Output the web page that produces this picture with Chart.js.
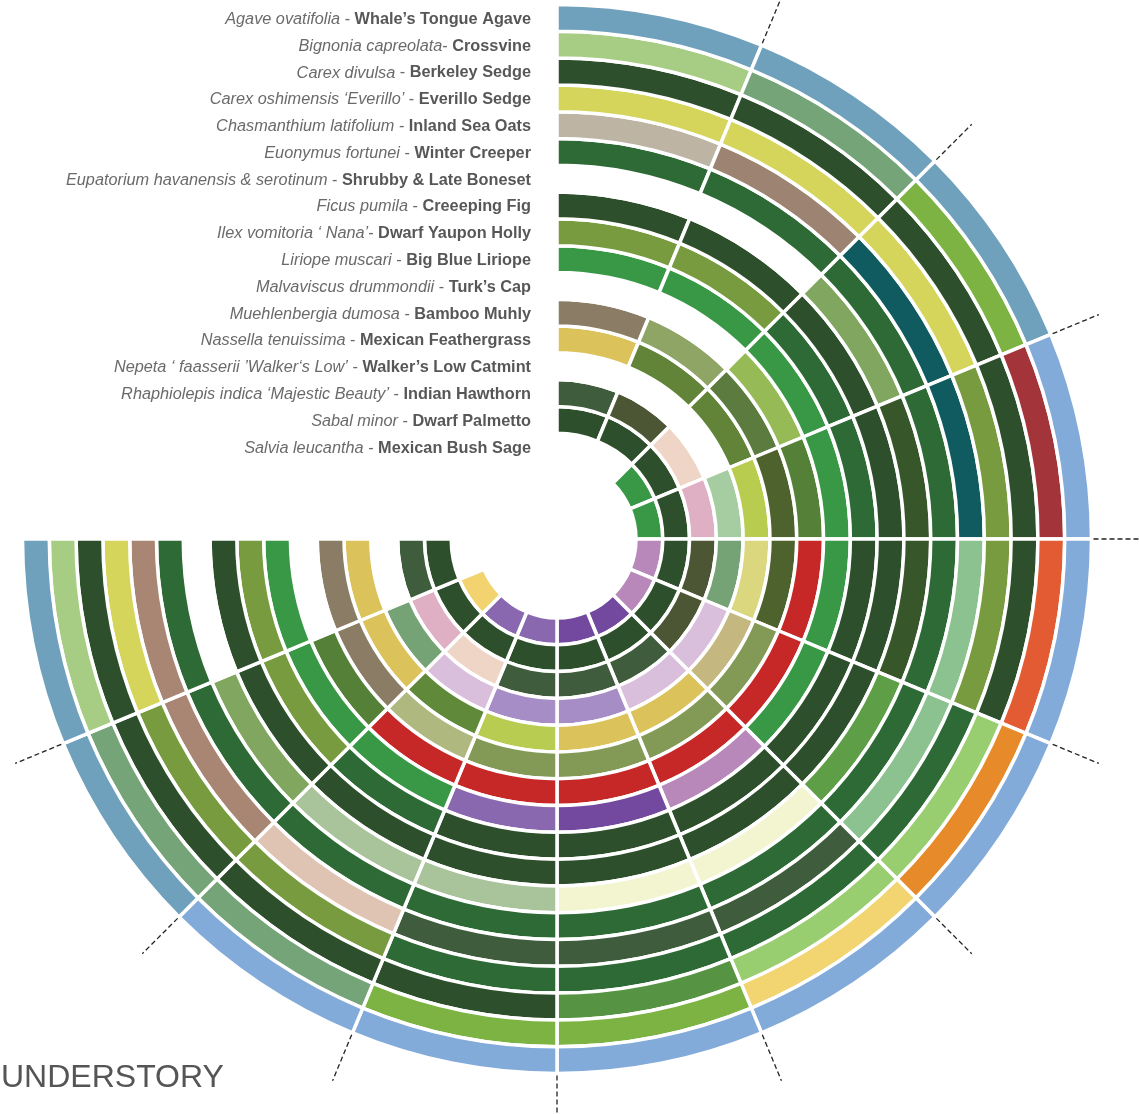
<!DOCTYPE html>
<html>
<head>
<meta charset="utf-8">
<script src="https://cdn.jsdelivr.net/npm/chart.js@4.4.1/dist/chart.umd.min.js"></script>
<style>
  html, body { margin: 0; padding: 0; background: #fff; }
  #wrap { position: relative; width: 1139px; height: 1114px; }
</style>
</head>
<body>
<div id="wrap"><canvas id="wheel"></canvas></div>
<script>
const months = ['Jan', 'Feb', 'Mar', 'Apr', 'May', 'Jun', 'Jul', 'Aug', 'Sep', 'Oct', 'Nov', 'Dec'];

const latinNames = [
    'Agave ovatifolia', 'Bignonia capreolata', 'Carex divulsa', 'Carex oshimensis ‘Everillo’',
    'Chasmanthium latifolium', 'Euonymus fortunei', 'Eupatorium havanensis & serotinum',
    'Ficus pumila', 'Ilex vomitoria ‘ Nana’', 'Liriope muscari', 'Malvaviscus drummondii',
    'Muehlenbergia dumosa', 'Nassella tenuissima', 'Nepeta ‘ faasserii ’Walker‘s Low’',
    'Rhaphiolepis indica ‘Majestic Beauty’', 'Sabal minor', 'Salvia leucantha'
];
const separators = [' - ', '- ', ' - ', ' - ', ' - ', ' - ', ' - ', ' - ', '- ', ' - ', ' - ', ' - ', ' - ', ' - ', ' - ', ' - ', ' - '];
const commonNames = [
    'Whale’s Tongue Agave', 'Crossvine', 'Berkeley Sedge', 'Everillo Sedge', 'Inland Sea Oats',
    'Winter Creeper', 'Shrubby & Late Boneset', 'Creeeping Fig', 'Dwarf Yaupon Holly',
    'Big Blue Liriope', 'Turk’s Cap', 'Bamboo Muhly', 'Mexican Feathergrass',
    'Walker’s Low Catmint', 'Indian Hawthorn', 'Dwarf Palmetto', 'Mexican Bush Sage'
];

// look of each plant month by month (null = nothing to show)
const ringColors = [
    ['#6fa1bd', '#6fa1bd', '#6fa1bd', '#83abd9', '#83abd9', '#83abd9', '#83abd9', '#83abd9', '#83abd9', '#83abd9', '#6fa1bd', '#6fa1bd'],
    ['#a6cd83', '#75a478', '#7cb342', '#a3353a', '#e35b32', '#e68a2a', '#f2d470', '#7cb342', '#7cb342', '#75a478', '#75a478', '#a6cd83'],
    ['#2e4f2b', '#2e4f2b', '#2e4f2b', '#2e4f2b', '#2e4f2b', '#98cd70', '#98cd70', '#569443', '#2e4f2b', '#2e4f2b', '#2e4f2b', '#2e4f2b'],
    ['#d5d45b', '#d5d45b', '#d5d45b', '#789b3f', '#789b3f', '#2d6a35', '#2d6a35', '#2d6a35', '#2d6a35', '#789b3f', '#789b3f', '#d5d45b'],
    ['#bdb4a4', '#9d8371', '#0f5b5f', '#0f5b5f', '#8cc190', '#8cc190', '#3f5c3c', '#3f5c3c', '#3f5c3c', '#dfc4b3', '#a98573', '#a98573'],
    ['#2d6a35', '#2d6a35', '#2d6a35', '#2d6a35', '#2d6a35', '#2d6a35', '#2d6a35', '#2d6a35', '#2d6a35', '#2d6a35', '#2d6a35', '#2d6a35'],
    [null, null, '#80a660', '#37562a', '#37562a', '#5d9e46', '#f2f5d0', '#f2f5d0', '#a9c39b', '#a9c39b', '#80a660', null],
    ['#2e4f2b', '#2e4f2b', '#2e4f2b', '#2e4f2b', '#2e4f2b', '#2e4f2b', '#2e4f2b', '#2e4f2b', '#2e4f2b', '#2e4f2b', '#2e4f2b', '#2e4f2b'],
    ['#789b3f', '#789b3f', '#2d6a35', '#2d6a35', '#2e4f2b', '#2e4f2b', '#2e4f2b', '#2e4f2b', '#2e4f2b', '#2d6a35', '#789b3f', '#789b3f'],
    ['#389845', '#389845', '#389845', '#389845', '#389845', '#389845', '#b888bb', '#7349a0', '#8a68b0', '#389845', '#389845', '#389845'],
    [null, null, '#96bb56', '#548038', '#c62828', '#c62828', '#c62828', '#c62828', '#c62828', '#c62828', '#548038', null],
    ['#8b7d65', '#8ea565', '#5b7b3f', '#4e622d', '#4e622d', '#839a56', '#839a56', '#839a56', '#839a56', '#afb87e', '#8b7d65', '#8b7d65'],
    ['#dbc25a', '#618438', '#618438', '#b8cc50', '#dbd77e', '#c5b780', '#dbc25a', '#dbc25a', '#b9cc52', '#608a3a', '#dbc25a', '#dbc25a'],
    [null, null, null, '#a6cda1', '#75a376', '#d9bfdc', '#d9bfdc', '#a78dc5', '#a78dc5', '#d9bfdc', '#75a376', null],
    ['#3f5c3c', '#4d5634', '#efd5c5', '#dfb0c3', '#4d5634', '#4d5634', '#3f5c3c', '#3f5c3c', '#3f5c3c', '#efd5c5', '#dfb0c3', '#3f5c3c'],
    ['#2e4f2b', '#2e4f2b', '#2e4f2b', '#2e4f2b', '#2e4f2b', '#2e4f2b', '#2e4f2b', '#2e4f2b', '#2e4f2b', '#2e4f2b', '#2e4f2b', '#2e4f2b'],
    [null, null, '#389845', '#389845', '#b888bb', '#b888bb', '#7349a0', '#7349a0', '#8a68b0', '#8a68b0', '#f2d36f', null]
];

const sectionTitle = 'UNDERSTORY';

const FONT = '"Liberation Sans", Arial, sans-serif';

// Dashed month ticks, plant labels and the section title
const overlayPlugin = {
    id: 'overlay',
    afterDraw(chart) {
        const ctx = chart.ctx;
        const outerArcs = chart.getDatasetMeta(0).data;
        const cx = outerArcs[0].x;
        const cy = outerArcs[0].y;
        const rOut = outerArcs[0].outerRadius;

        ctx.save();
        ctx.strokeStyle = '#222';
        ctx.lineWidth = 1.3;
        ctx.setLineDash([5, 3]);
        for (let i = 1; i < outerArcs.length; i++) {
            const a = outerArcs[i].startAngle;
            ctx.beginPath();
            ctx.moveTo(cx + (rOut + 2) * Math.cos(a), cy + (rOut + 2) * Math.sin(a));
            ctx.lineTo(cx + (rOut + 52) * Math.cos(a), cy + (rOut + 52) * Math.sin(a));
            ctx.stroke();
        }
        ctx.restore();

        ctx.save();
        ctx.textBaseline = 'middle';
        const xRight = cx - 26;
        chart.data.datasets.forEach((ds, j) => {
            const arc = chart.getDatasetMeta(j).data[0];
            const y = cy - (arc.innerRadius + arc.outerRadius) / 2 + 1.5;
            ctx.font = 'bold 16.3px ' + FONT;
            const wCommon = ctx.measureText(commonNames[j]).width;
            ctx.fillStyle = '#575757';
            ctx.fillText(commonNames[j], xRight - wCommon, y);
            ctx.font = '16.3px ' + FONT;
            const wSep = ctx.measureText(separators[j]).width;
            ctx.fillStyle = '#6a6a6a';
            ctx.fillText(separators[j], xRight - wCommon - wSep, y);
            ctx.font = 'italic 16.3px ' + FONT;
            const wLatin = ctx.measureText(latinNames[j]).width;
            ctx.fillText(latinNames[j], xRight - wCommon - wSep - wLatin, y);
        });

        ctx.textBaseline = 'alphabetic';
        ctx.font = '32px ' + FONT;
        ctx.fillStyle = '#555';
        ctx.fillText(sectionTitle, 1, 1087);
        ctx.restore();
    }
};

const outerRadius = 534.5;
const innerRadius = 79;

new Chart(document.getElementById('wheel'), {
    type: 'doughnut',
    data: {
        labels: months,
        datasets: ringColors.map((row, j) => ({
            label: commonNames[j],
            data: months.map(() => 1),
            backgroundColor: row.map(c => c || 'rgba(0,0,0,0)'),
            borderColor: '#ffffff',
            borderWidth: 3.5,
            hoverOffset: 0
        }))
    },
    options: {
        responsive: true,
        maintainAspectRatio: false,
        animation: false,
        rotation: 0,
        circumference: 270,
        radius: outerRadius,
        cutout: (innerRadius / outerRadius * 100) + '%',
        layout: { padding: { left: 0, top: 0, right: 25, bottom: 36 } },
        plugins: {
            legend: { display: false },
            tooltip: { enabled: false }
        },
        events: []
    },
    plugins: [overlayPlugin]
});
</script>
</body>
</html>
